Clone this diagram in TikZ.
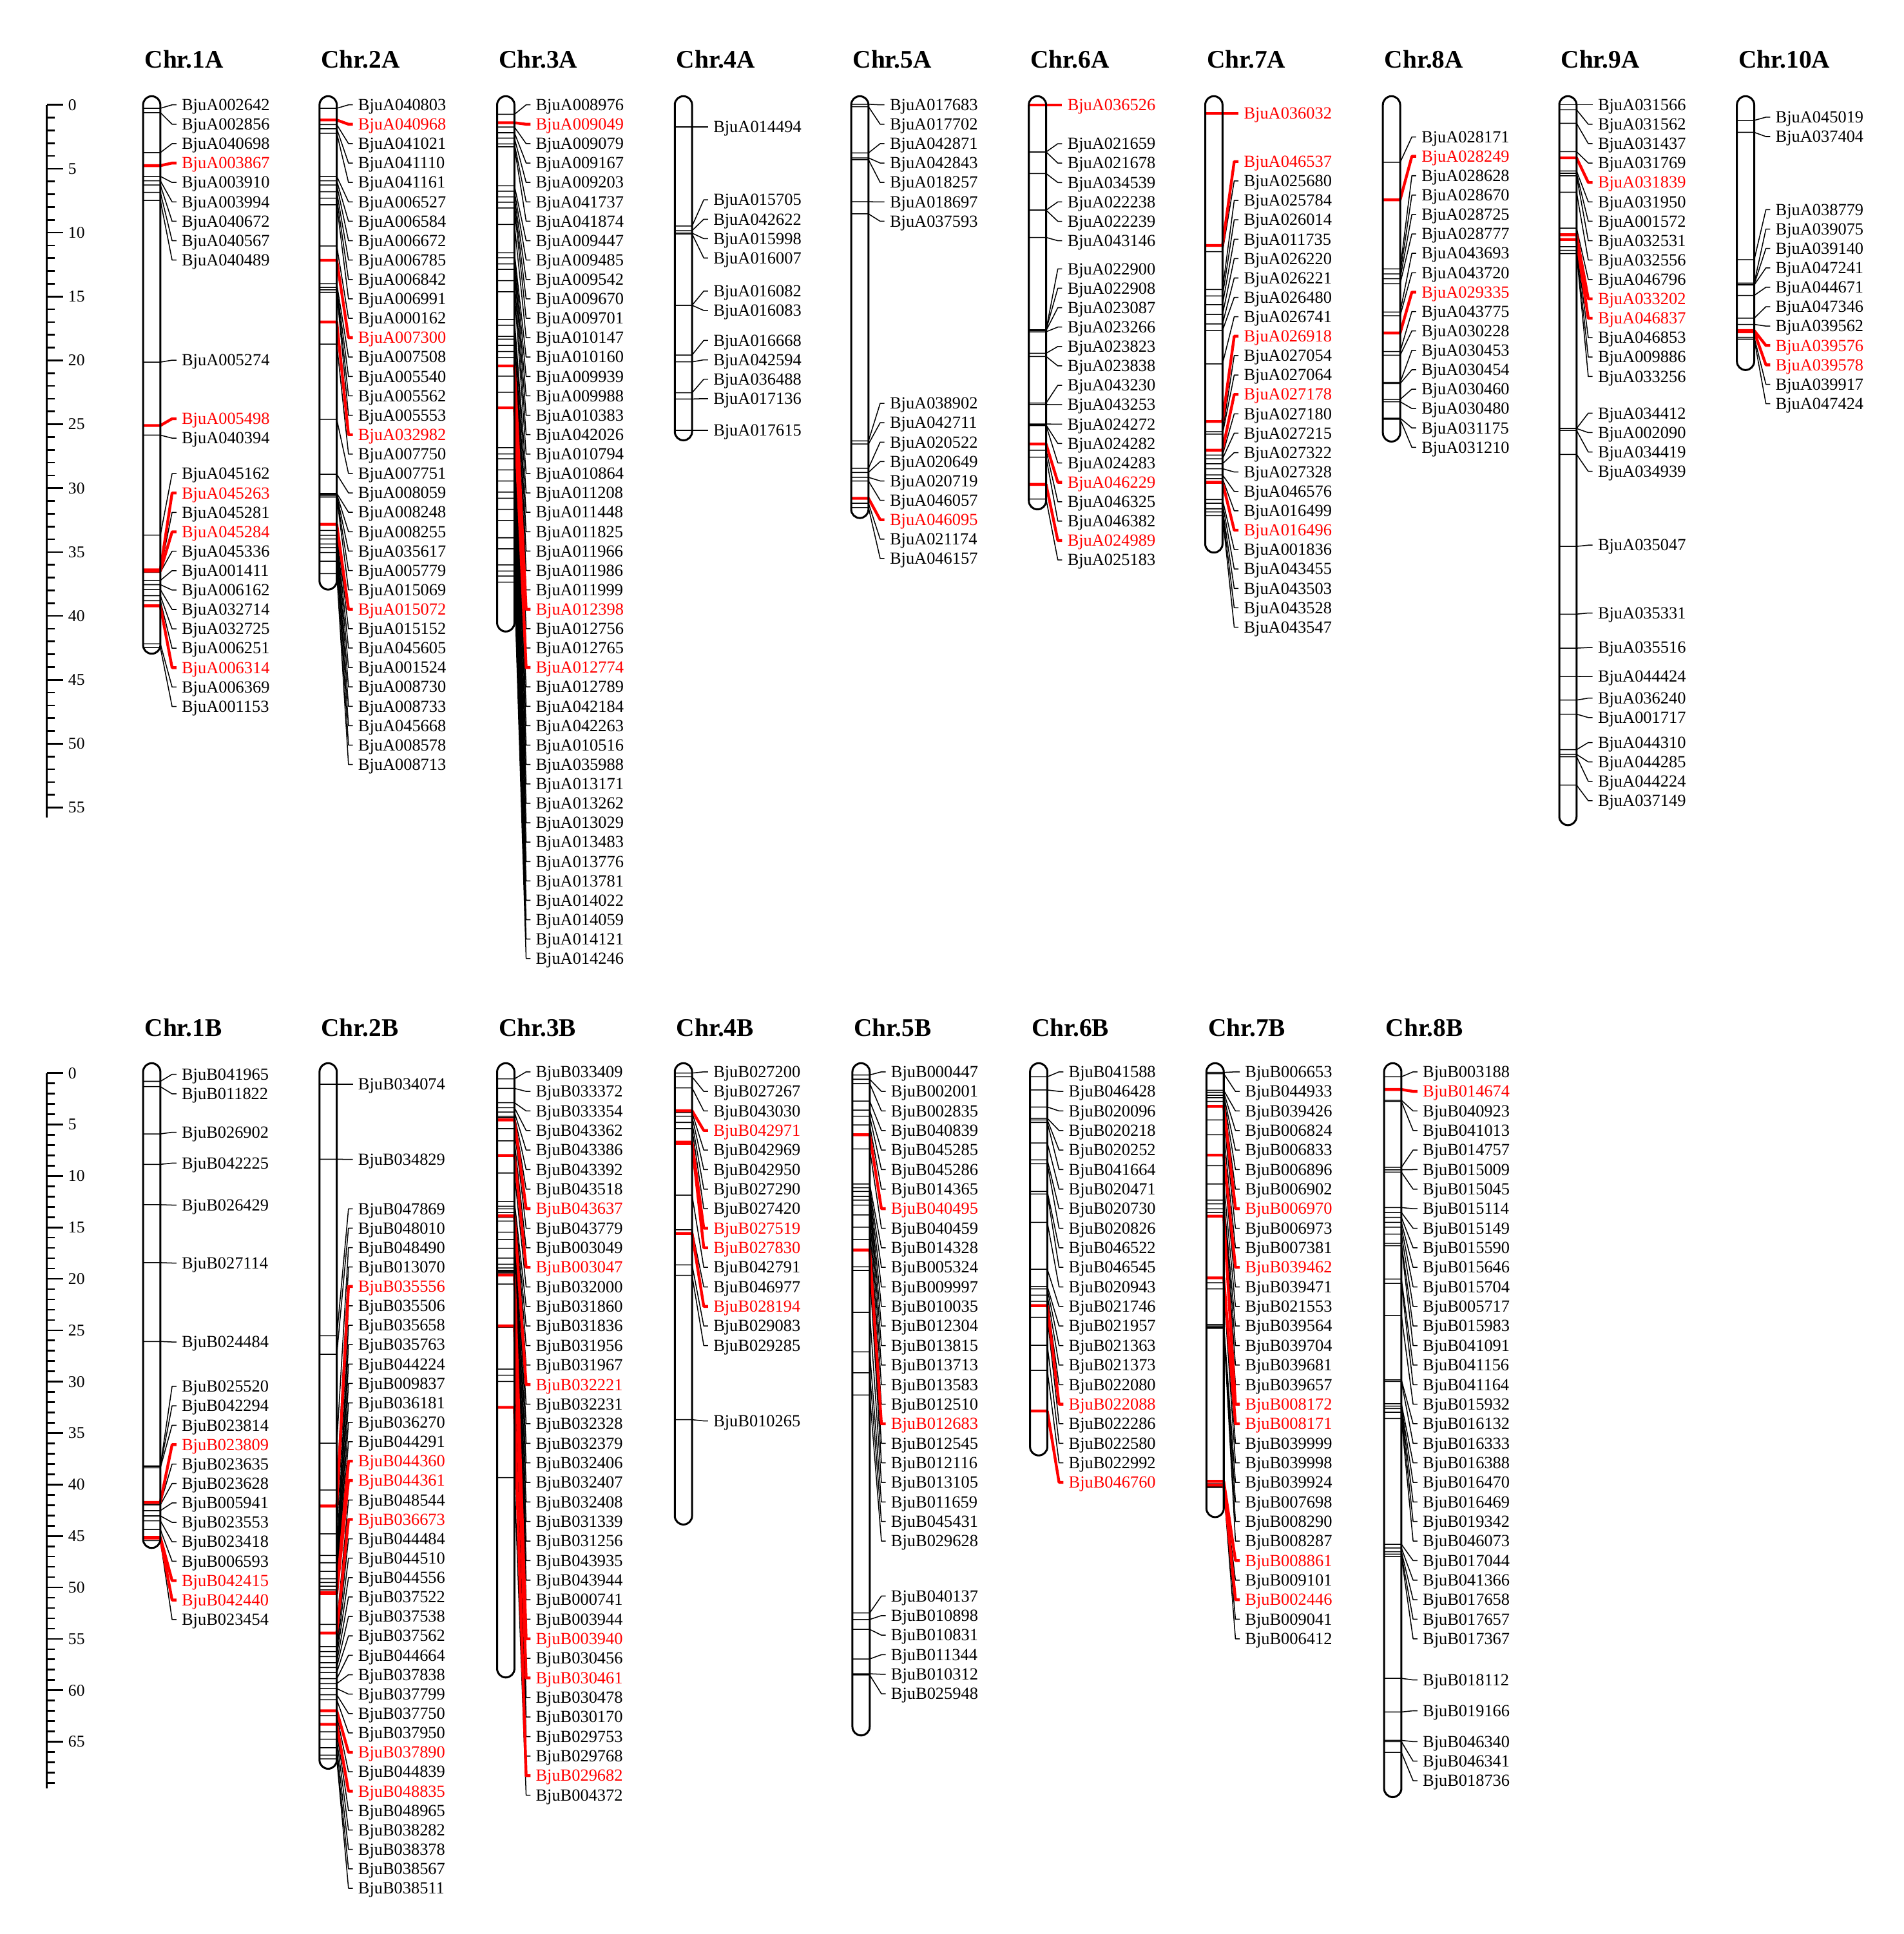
\documentclass[tikz,border=0pt]{standalone}
\usepackage{fontspec}
\setmainfont{Liberation Serif}
\tikzset{
  lab/.style={font=\fontsize{7.85}{9}\selectfont, anchor=west, inner xsep=0.08cm, inner ysep=0pt, text height=5.2pt, text depth=0pt},
  nk/.style={text=black},
  nr/.style={text=red},
  lk/.style={draw=black, line width=0.45pt, line join=round},
  lr/.style={draw=red, line width=1.3pt, line join=round},
  bar/.style={draw=black, line width=0.9pt, rounded corners=0.14cm},
  ttl/.style={font=\bfseries\fontsize{11.7}{14}\selectfont, anchor=west, inner sep=0pt},
  rul/.style={line width=0.8pt},
  snum/.style={font=\fontsize{7.6}{9}\selectfont, anchor=west, inner sep=0pt},
}
% #1 id, #2 bar left x, #3 first label y, #4 label spacing, #5 list marker/name/flag
\newcommand{\genegrp}[5]{%
  \foreach \mk/\gn/\fl [count=\kk from 0] in {#5}{%
    \pgfmathsetmacro{\ly}{#3+#4*\kk}%
    \node[lab,n\fl] (#1-\kk) at (#2+27,\ly) {\gn};%
    \coordinate (#1-s\kk) at (#2,\mk);%
    \coordinate (#1-e\kk) at (#2+14,\mk);%
    \coordinate (#1-d\kk) at (#2+23.5,\ly);%
    \if k\fl \draw[lk] (#1-s\kk) -- (#1-e\kk) -- (#1-d\kk) -- (#1-\kk.west);\fi
  }%
  \foreach \mk/\gn/\fl [count=\kk from 0] in {#5}{%
    \if r\fl \draw[lr] (#1-s\kk) -- (#1-e\kk) -- (#1-d\kk) -- (#1-\kk.west);\fi
  }}
\begin{document}
\begin{tikzpicture}[x=0.02cm,y=-0.02cm]
\fill[white] (0,0) rectangle (1543,1568);
\useasboundingbox (0,0) rectangle (1543,1568);

% ---------- scales ----------
\draw[rul] (38,85) -- (38,663);
\foreach \i in {0,...,55}{\draw[rul] (38,{85+10.36*\i}) -- (44.5,{85+10.36*\i});}
\foreach \i in {0,5,...,55}{\draw[rul] (38,{85+10.36*\i}) -- (51.4,{85+10.36*\i});
  \node[snum] (st\i) at (55,{85+10.36*\i}) {\i};}
\draw[rul] (38,870) -- (38,1450);
\foreach \i in {0,...,69}{\draw[rul] (38,{870+8.34*\i}) -- (44.5,{870+8.34*\i});}
\foreach \i in {0,5,...,65}{\draw[rul] (38,{870+8.34*\i}) -- (51.4,{870+8.34*\i});
  \node[snum] (sb\i) at (55,{870+8.34*\i}) {\i};}

% ---------- titles ----------
\foreach \n/\x in {1/116,2/259,3/403,4/547,5/690,6/834,7/977,8/1121,9/1264,10/1408}{
  \node[ttl] (tA\n) at (\x+1,48) {Chr.\n A};}
\foreach \n/\x in {1/116,2/259,3/403,4/547,5/691,6/835,7/978,8/1122}{
  \node[ttl] (tB\n) at (\x+1,833) {Chr.\n B};}

% ---------- Chr.1A ----------
\genegrp{A1a}{116}{85}{15.73}{87.8/BjuA002642/k,91.3/BjuA002856/k,123.7/BjuA040698/k,134.3/BjuA003867/r,143/BjuA003910/k,146.6/BjuA003994/k,150/BjuA040672/k,156/BjuA040567/k,162.5/BjuA040489/k}
\genegrp{A1b}{116}{292}{15.73}{293.6/BjuA005274/k}
\genegrp{A1c}{116}{339.5}{15.73}{345/BjuA005498/r,352.8/BjuA040394/k}
\genegrp{A1d}{116}{384}{15.73}{433.8/BjuA045162/k,462/BjuA045263/r,462.5/BjuA045281/k,463/BjuA045284/r,464/BjuA045336/k,470.6/BjuA001411/k,474/BjuA006162/k,478/BjuA032714/k,483/BjuA032725/k,487/BjuA006251/k,491.2/BjuA006314/r,522/BjuA006369/k,525/BjuA001153/k}
\draw[bar] (116,78) rectangle (130,530);

% ---------- Chr.2A ----------
\genegrp{A2}{259}{85}{15.73}{87.8/BjuA040803/k,97.3/BjuA040968/r,101/BjuA041021/k,104.4/BjuA041110/k,108/BjuA041161/k,143/BjuA006527/k,146.6/BjuA006584/k,150/BjuA006672/k,155.5/BjuA006785/k,160.7/BjuA006842/k,166/BjuA006991/k,199.5/BjuA000162/k,211/BjuA007300/r,230/BjuA007508/k,233/BjuA005540/k,235/BjuA005562/k,237/BjuA005553/k,261/BjuA032982/r,279/BjuA007750/k,340/BjuA007751/k,384.5/BjuA008059/k,400/BjuA008248/k,400.5/BjuA008255/k,401/BjuA035617/k,402/BjuA005779/k,403/BjuA015069/k,425/BjuA015072/r,430/BjuA015152/k,434/BjuA045605/k,437/BjuA001524/k,441/BjuA008730/k,444/BjuA008733/k,448/BjuA045668/k,455/BjuA008578/k,465/BjuA008713/k}
\draw[bar] (259,78) rectangle (273,478);

% ---------- Chr.3A ----------
\genegrp{A3}{403}{85}{15.73}{92.7/BjuA008976/k,99.5/BjuA009049/r,103/BjuA009079/k,107.6/BjuA009167/k,112/BjuA009203/k,116.7/BjuA041737/k,119/BjuA041874/k,150.6/BjuA009447/k,155/BjuA009485/k,159.6/BjuA009542/k,164/BjuA009670/k,168.7/BjuA009701/k,182/BjuA010147/k,205/BjuA010160/k,209/BjuA009939/k,214/BjuA009988/k,218.4/BjuA010383/k,227.5/BjuA042026/k,236.5/BjuA010794/k,259/BjuA010864/k,263.7/BjuA011208/k,272.7/BjuA011448/k,275/BjuA011825/k,280/BjuA011966/k,285/BjuA011986/k,290/BjuA011999/k,296.7/BjuA012398/r,305/BjuA012756/k,318/BjuA012765/k,330.6/BjuA012774/r,363/BjuA012789/k,368/BjuA042184/k,372/BjuA042263/k,381/BjuA010516/k,390/BjuA035988/k,399/BjuA013171/k,404/BjuA013262/k,413/BjuA013029/k,422/BjuA013483/k,436/BjuA013776/k,445/BjuA013781/k,458/BjuA014022/k,463/BjuA014059/k,467/BjuA014121/k,472/BjuA014246/k}
\draw[bar] (403,78) rectangle (417,512);

% ---------- Chr.4A ----------
\genegrp{A4a}{547}{103}{15.73}{103/BjuA014494/k}
\genegrp{A4b}{547}{162}{15.73}{183.3/BjuA015705/k,187/BjuA042622/k,189/BjuA015998/k,189.7/BjuA016007/k}
\genegrp{A4c}{547}{236}{15.73}{247.5/BjuA016082/k,247.5/BjuA016083/k}
\genegrp{A4d}{547}{276}{15.73}{287.8/BjuA016668/k,293.4/BjuA042594/k,318.4/BjuA036488/k,323.5/BjuA017136/k}
\genegrp{A4e}{547}{349}{15.73}{349/BjuA017615/k}
\draw[bar] (547,78) rectangle (561,357);

% ---------- Chr.5A ----------
\genegrp{A5a}{690}{85}{15.73}{84.5/BjuA017683/k,86.5/BjuA017702/k,124/BjuA042871/k,128/BjuA042843/k,129.5/BjuA018257/k,163.6/BjuA018697/k,173.4/BjuA037593/k}
\genegrp{A5b}{690}{327}{15.73}{357.5/BjuA038902/k,360/BjuA042711/k,379.6/BjuA020522/k,383/BjuA020649/k,387/BjuA020719/k,390/BjuA046057/k,404/BjuA046095/r,408/BjuA021174/k,411.5/BjuA046157/k}
\draw[bar] (690,78) rectangle (704,420);

% ---------- Chr.6A ----------
\genegrp{A6a}{834}{85}{15.73}{85/BjuA036526/r}
\genegrp{A6b}{834}{116.5}{15.73}{123.2/BjuA021659/k,123.2/BjuA021678/k,140.7/BjuA034539/k,170.4/BjuA022238/k,170.4/BjuA022239/k,192.5/BjuA043146/k}
\genegrp{A6c}{834}{218}{15.73}{267.4/BjuA022900/k,267.4/BjuA022908/k,268/BjuA023087/k,269/BjuA023266/k,286.4/BjuA023823/k,289/BjuA023838/k,326.8/BjuA043230/k,328/BjuA043253/k,343.8/BjuA024272/k,344.6/BjuA024282/k,345/BjuA024283/k,360/BjuA046229/r,365/BjuA046325/k,370.6/BjuA046382/k,392.7/BjuA024989/r,404.6/BjuA025183/k}
\draw[bar] (834,78) rectangle (848,413);

% ---------- Chr.7A ----------
\genegrp{A7a}{977}{92}{15.73}{92/BjuA036032/r}
\genegrp{A7b}{977}{131}{15.73}{199/BjuA046537/r,204/BjuA025680/k,234.7/BjuA025784/k,240/BjuA026014/k,247/BjuA011735/k,255/BjuA026220/k,262.7/BjuA026221/k,268/BjuA026480/k,295/BjuA026741/k,341.7/BjuA026918/r,350/BjuA027054/k,352/BjuA027064/k,365/BjuA027178/r,369/BjuA027180/k,372/BjuA027215/k,376/BjuA027322/k,380/BjuA027328/k,385/BjuA046576/k,388/BjuA016499/k,391/BjuA016496/r,405/BjuA001836/k,408/BjuA043455/k,412.5/BjuA043503/k,415/BjuA043528/k,418/BjuA043547/k}
\draw[bar] (977,78) rectangle (991,448);

% ---------- Chr.8A ----------
\genegrp{A8}{1121}{111}{15.73}{131.6/BjuA028171/k,162/BjuA028249/r,218/BjuA028628/k,222/BjuA028670/k,226/BjuA028725/k,230/BjuA028777/k,253/BjuA043693/k,256/BjuA043720/k,270/BjuA029335/r,285/BjuA043775/k,288/BjuA030228/k,310/BjuA030453/k,311/BjuA030454/k,323.8/BjuA030460/k,325.7/BjuA030480/k,339/BjuA031175/k,340/BjuA031210/k}
\draw[bar] (1121,78) rectangle (1135,358);

% ---------- Chr.9A ----------
\genegrp{A9a}{1264}{85}{15.73}{85/BjuA031566/k,89/BjuA031562/k,100/BjuA031437/k,123/BjuA031769/k,128/BjuA031839/r,138.6/BjuA031950/k,140.5/BjuA001572/k,142.5/BjuA032531/k,155.9/BjuA032556/k,185/BjuA046796/k,190.3/BjuA033202/r,194.2/BjuA046837/r,200/BjuA046853/k,203/BjuA009886/k,205.6/BjuA033256/k}
\genegrp{A9b}{1264}{335}{15.73}{347.4/BjuA034412/k,347.4/BjuA002090/k,349/BjuA034419/k,368.4/BjuA034939/k}
\genegrp{A9c}{1264}{442}{15.73}{443/BjuA035047/k}
\genegrp{A9d}{1264}{497}{15.73}{497.9/BjuA035331/k}
\genegrp{A9e}{1264}{525}{15.73}{525.5/BjuA035516/k}
\genegrp{A9f}{1264}{548.5}{15.73}{548.4/BjuA044424/k}
\genegrp{A9g}{1264}{566}{15.73}{567.6/BjuA036240/k,579/BjuA001717/k}
\genegrp{A9h}{1264}{602}{15.73}{607.8/BjuA044310/k,611.6/BjuA044285/k,613.5/BjuA044224/k,636.5/BjuA037149/k}
\draw[bar] (1264,78) rectangle (1278,669);

% ---------- Chr.10A ----------
\genegrp{A10a}{1408}{95}{15.73}{97.6/BjuA045019/k,107.3/BjuA037404/k}
\genegrp{A10b}{1408}{170}{15.73}{210.6/BjuA038779/k,229.5/BjuA039075/k,230.5/BjuA039140/k,231/BjuA047241/k,239.5/BjuA044671/k,258/BjuA047346/k,263/BjuA039562/k,268/BjuA039576/r,269/BjuA039578/r,273.5/BjuA039917/k,275/BjuA047424/k}
\draw[bar] (1408,78) rectangle (1422,300);

% ---------- Chr.1B ----------
\genegrp{B1a}{116}{871}{15.85}{876.7/BjuB041965/k,881/BjuB011822/k}
\genegrp{B1b}{116}{918}{15.85}{919.3/BjuB026902/k}
\genegrp{B1c}{116}{943}{15.85}{944/BjuB042225/k}
\genegrp{B1d}{116}{977}{15.85}{976.7/BjuB026429/k}
\genegrp{B1e}{116}{1024}{15.85}{1023.7/BjuB027114/k}
\genegrp{B1f}{116}{1088}{15.85}{1087.6/BjuB024484/k}
\genegrp{B1g}{116}{1124}{15.75}{1188.5/BjuB025520/k,1189/BjuB042294/k,1190/BjuB023814/k,1218/BjuB023809/r,1219/BjuB023635/k,1220/BjuB023628/k,1224.7/BjuB005941/k,1229/BjuB023553/k,1233/BjuB023418/k,1240/BjuB006593/k,1246.4/BjuB042415/r,1247/BjuB042440/r,1249/BjuB023454/k}
\draw[bar] (116,862) rectangle (130,1255);

% ---------- Chr.2B ----------
\genegrp{B2a}{259}{879}{15.74}{879/BjuB034074/k}
\genegrp{B2b}{259}{940}{15.74}{939.8/BjuB034829/k}
\genegrp{B2c}{259}{980}{15.74}{1083/BjuB047869/k,1098/BjuB048010/k,1170/BjuB048490/k,1208/BjuB013070/k,1221/BjuB035556/r,1243.6/BjuB035506/k,1261/BjuB035658/k,1267/BjuB035763/k,1274/BjuB044224/k,1280/BjuB009837/k,1283/BjuB036181/k,1286/BjuB036270/k,1289/BjuB044291/k,1291/BjuB044360/r,1292/BjuB044361/r,1317/BjuB048544/k,1324/BjuB036673/r,1335/BjuB044484/k,1339/BjuB044510/k,1343/BjuB044556/k,1348/BjuB037522/k,1352/BjuB037538/k,1356/BjuB037562/k,1361/BjuB044664/k,1365/BjuB037838/k,1369/BjuB037799/k,1374/BjuB037750/k,1378/BjuB037950/k,1387/BjuB037890/r,1391/BjuB044839/k,1398/BjuB048835/r,1404/BjuB048965/k,1410/BjuB038282/k,1417/BjuB038378/k,1423/BjuB038567/k,1426/BjuB038511/k}
\draw[bar] (259,862) rectangle (273,1434);

% ---------- Chr.3B ----------
\genegrp{B3}{403}{869}{15.85}{874.7/BjuB033409/k,882.4/BjuB033372/k,894/BjuB033354/k,898/BjuB043362/k,901.6/BjuB043386/k,905/BjuB043392/k,906/BjuB043518/k,908/BjuB043637/r,915/BjuB043779/k,925/BjuB003049/k,936.8/BjuB003047/r,951/BjuB032000/k,974/BjuB031860/k,978/BjuB031836/k,980/BjuB031956/k,983/BjuB031967/k,985.8/BjuB032221/r,987/BjuB032231/k,990/BjuB032328/k,999/BjuB032379/k,1005/BjuB032406/k,1012/BjuB032407/k,1020/BjuB032408/k,1025/BjuB031339/k,1028/BjuB031256/k,1030/BjuB043935/k,1031/BjuB043944/k,1032/BjuB000741/k,1033/BjuB003944/k,1033.7/BjuB003940/r,1041/BjuB030456/k,1075/BjuB030461/r,1076/BjuB030478/k,1110/BjuB030170/k,1115/BjuB029753/k,1120/BjuB029768/k,1141/BjuB029682/r,1198/BjuB004372/k}
\draw[bar] (403,862) rectangle (417,1360);

% ---------- Chr.4B ----------
\genegrp{B4a}{547}{869}{15.85}{870/BjuB027200/k,873/BjuB027267/k,882/BjuB043030/k,900.5/BjuB042971/r,902/BjuB042969/k,905/BjuB042950/k,910/BjuB027290/k,915/BjuB027420/k,926/BjuB027519/r,927/BjuB027830/r,969/BjuB042791/k,997/BjuB046977/k,1000/BjuB028194/r,1025.5/BjuB029083/k,1034/BjuB029285/k}
\genegrp{B4b}{547}{1152}{15.85}{1151/BjuB010265/k}
\draw[bar] (547,862) rectangle (561,1236);

% ---------- Chr.5B ----------
\genegrp{B5a}{691}{869}{15.85}{871.5/BjuB000447/k,875/BjuB002001/k,878.5/BjuB002835/k,892.7/BjuB040839/k,900/BjuB045285/k,905/BjuB045286/k,912/BjuB014365/k,920/BjuB040495/r,931.5/BjuB040459/k,960/BjuB014328/k,963/BjuB005324/k,966/BjuB009997/k,970/BjuB010035/k,973/BjuB012304/k,977/BjuB013815/k,985/BjuB013713/k,995/BjuB013583/k,1005/BjuB012510/k,1013.5/BjuB012683/r,1027/BjuB012545/k,1030/BjuB012116/k,1064/BjuB013105/k,1096/BjuB011659/k,1113/BjuB045431/k,1131/BjuB029628/k}
\genegrp{B5b}{691}{1294}{15.85}{1307.7/BjuB040137/k,1313/BjuB010898/k,1321/BjuB010831/k,1345/BjuB011344/k,1357/BjuB010312/k,1358/BjuB025948/k}
\draw[bar] (691,862) rectangle (705,1407);

% ---------- Chr.6B ----------
\genegrp{B6}{835}{869}{15.85}{873/BjuB041588/k,883.7/BjuB046428/k,897.5/BjuB020096/k,906.7/BjuB020218/k,908/BjuB020252/k,910/BjuB041664/k,926.6/BjuB020471/k,940.4/BjuB020730/k,943.5/BjuB020826/k,966/BjuB046522/k,968/BjuB046545/k,991/BjuB020943/k,1029/BjuB021746/k,1043/BjuB021957/k,1045/BjuB021363/k,1050/BjuB021373/k,1055/BjuB022080/k,1058.5/BjuB022088/r,1068/BjuB022286/k,1090.7/BjuB022580/k,1111/BjuB022992/k,1144/BjuB046760/r}
\draw[bar] (835,862) rectangle (849,1180);

% ---------- Chr.7B ----------
\genegrp{B7}{978}{869}{15.85}{869.5/BjuB006653/k,870.5/BjuB044933/k,884/BjuB039426/k,885.6/BjuB006824/k,888/BjuB006833/k,890/BjuB006896/k,893/BjuB006902/k,897/BjuB006970/r,908/BjuB006973/k,920/BjuB007381/k,936.5/BjuB039462/r,945/BjuB039471/k,960/BjuB021553/k,973/BjuB039564/k,976/BjuB039704/k,980/BjuB039681/k,983/BjuB039657/k,986/BjuB008172/r,1036/BjuB008171/r,1040/BjuB039999/k,1045/BjuB039998/k,1073.8/BjuB039924/k,1075/BjuB007698/k,1076/BjuB008290/k,1077/BjuB008287/k,1201/BjuB008861/r,1203/BjuB009101/k,1204/BjuB002446/r,1205/BjuB009041/k,1206/BjuB006412/k}
\draw[bar] (978,862) rectangle (992,1230);

% ---------- Chr.8B ----------
\genegrp{B8a}{1122}{869}{15.85}{873/BjuB003188/k,883.3/BjuB014674/r,892/BjuB040923/k,893/BjuB041013/k,946.4/BjuB014757/k,948.4/BjuB015009/k,950.3/BjuB015045/k,979/BjuB015114/k,983/BjuB015149/k,987/BjuB015590/k,991/BjuB015646/k,995/BjuB015704/k,1000.6/BjuB005717/k,1008/BjuB015983/k,1010/BjuB041091/k,1037/BjuB041156/k,1040.5/BjuB041164/k,1066.5/BjuB015932/k,1118.7/BjuB016132/k,1120/BjuB016333/k,1138/BjuB016388/k,1140/BjuB016470/k,1142/BjuB016469/k,1145/BjuB019342/k,1150/BjuB046073/k,1252/BjuB017044/k,1255/BjuB041366/k,1258/BjuB017658/k,1260/BjuB017657/k,1262/BjuB017367/k}
\genegrp{B8b}{1122}{1362}{15.85}{1360.7/BjuB018112/k}
\genegrp{B8c}{1122}{1387}{15.85}{1388/BjuB019166/k}
\genegrp{B8d}{1122}{1412}{15.85}{1411/BjuB046340/k,1412/BjuB046341/k,1420.7/BjuB018736/k}
\draw[bar] (1122,862) rectangle (1136,1457);
\end{tikzpicture}
\end{document}
